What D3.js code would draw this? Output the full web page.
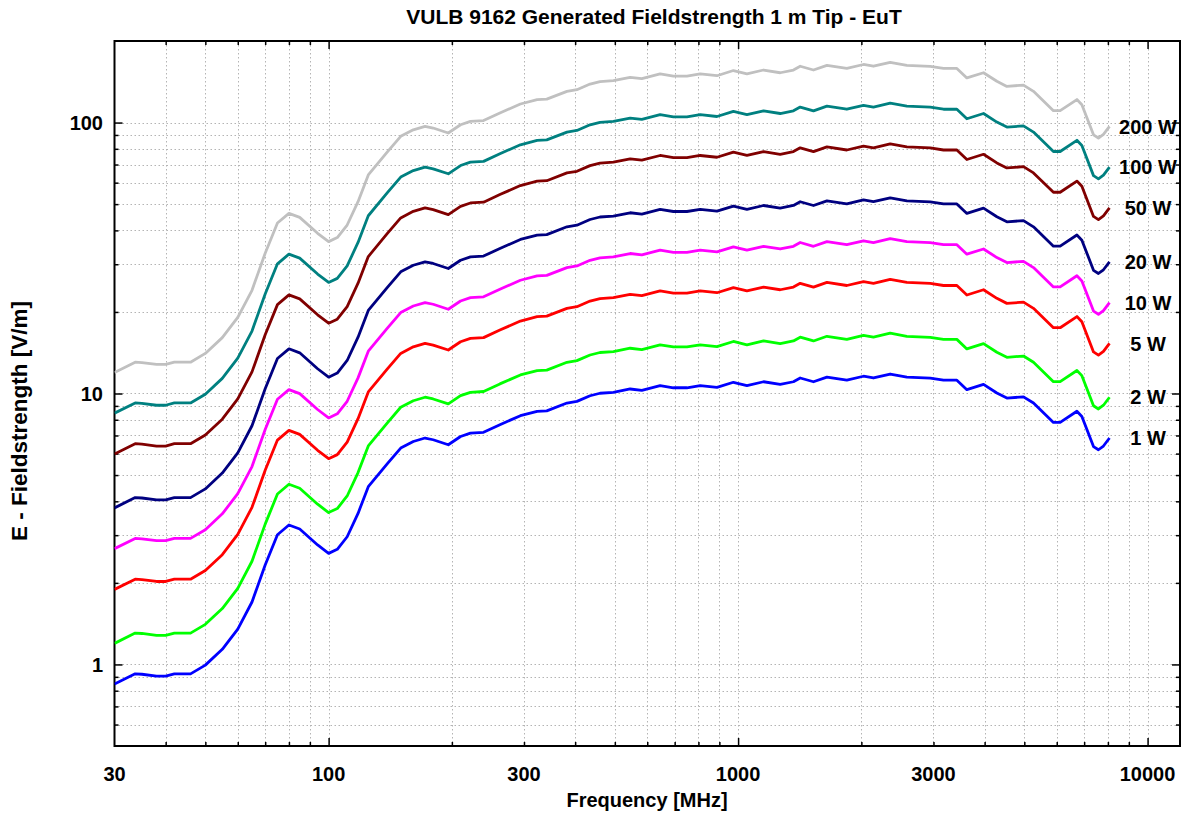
<!DOCTYPE html>
<html>
<head>
<meta charset="utf-8">
<script src="https://cdn.jsdelivr.net/npm/d3@7"></script>
<style>
  html, body { margin: 0; padding: 0; background: #fff; }
  svg { display: block; font-family: "Liberation Sans", Arial, sans-serif; }
</style>
</head>
<body>
<svg id="chart" width="1187" height="813"></svg>
<script>
// ---------------- data ----------------
const freqMHz = [30, 33.7, 35, 38, 40, 42, 46, 50, 55, 60, 65, 70, 75, 80, 85, 94, 100, 105, 111, 118, 125, 139, 150, 161, 172, 180, 196, 210, 222, 239, 262, 294, 323, 341, 382, 404, 435, 460, 496, 545, 582, 645, 695, 750, 808, 888, 974, 1051, 1154, 1267, 1365, 1418, 1528, 1648, 1843, 2024, 2141, 2352, 2583, 2946, 3174, 3422, 3620, 3975, 4285, 4533, 4977, 5265, 5890, 6117, 6721, 6911, 7378, 7586, 7803, 8073];

const e1W = [0.846, 0.923, 0.92, 0.905, 0.905, 0.923, 0.923, 0.994, 1.137, 1.35, 1.70, 2.33, 3.01, 3.27, 3.16, 2.76, 2.57, 2.66, 2.96, 3.61, 4.53, 5.50, 6.29, 6.65, 6.85, 6.75, 6.47, 6.94, 7.14, 7.19, 7.67, 8.28, 8.59, 8.63, 9.22, 9.35, 9.81, 10.02, 10.10, 10.39, 10.27, 10.69, 10.50, 10.50, 10.69, 10.53, 11.00, 10.70, 11.05, 10.80, 11.05, 11.41, 11.05, 11.50, 11.20, 11.58, 11.41, 11.80, 11.50, 11.40, 11.20, 11.20, 10.33, 10.80, 10.04, 9.62, 9.72, 9.22, 7.82, 7.82, 8.60, 8.23, 6.37, 6.20, 6.40, 6.85];

const e2W = [1.196, 1.305, 1.301, 1.280, 1.280, 1.305, 1.305, 1.406, 1.608, 1.909, 2.404, 3.295, 4.257, 4.624, 4.469, 3.903, 3.635, 3.762, 4.186, 5.105, 6.406, 7.778, 8.895, 9.404, 9.687, 9.546, 9.150, 9.815, 10.10, 10.17, 10.85, 11.71, 12.15, 12.20, 13.04, 13.22, 13.87, 14.17, 14.28, 14.69, 14.52, 15.12, 14.85, 14.85, 15.12, 14.89, 15.56, 15.13, 15.63, 15.27, 15.63, 16.14, 15.63, 16.26, 15.84, 16.38, 16.14, 16.69, 16.26, 16.12, 15.84, 15.84, 14.61, 15.27, 14.20, 13.60, 13.75, 13.04, 11.06, 11.06, 12.16, 11.64, 9.009, 8.768, 9.051, 9.687];

const e5W = [1.892, 2.064, 2.057, 2.024, 2.024, 2.064, 2.064, 2.223, 2.542, 3.019, 3.801, 5.210, 6.731, 7.312, 7.066, 6.172, 5.747, 5.948, 6.619, 8.072, 10.13, 12.30, 14.06, 14.87, 15.32, 15.09, 14.47, 15.52, 15.97, 16.08, 17.15, 18.51, 19.21, 19.30, 20.62, 20.91, 21.94, 22.41, 22.58, 23.23, 22.96, 23.90, 23.48, 23.48, 23.90, 23.55, 24.60, 23.93, 24.71, 24.15, 24.71, 25.51, 24.71, 25.72, 25.04, 25.89, 25.51, 26.39, 25.72, 25.49, 25.04, 25.04, 23.10, 24.15, 22.45, 21.51, 21.73, 20.62, 17.49, 17.49, 19.23, 18.40, 14.24, 13.86, 14.31, 15.32];

const e10W = [2.675, 2.919, 2.909, 2.862, 2.862, 2.919, 2.919, 3.143, 3.596, 4.269, 5.376, 7.368, 9.519, 10.34, 9.993, 8.728, 8.127, 8.412, 9.360, 11.42, 14.33, 17.39, 19.89, 21.03, 21.66, 21.35, 20.46, 21.95, 22.58, 22.74, 24.25, 26.18, 27.16, 27.29, 29.16, 29.57, 31.02, 31.69, 31.94, 32.86, 32.48, 33.81, 33.20, 33.20, 33.81, 33.30, 34.79, 33.84, 34.94, 34.15, 34.94, 36.08, 34.94, 36.37, 35.42, 36.62, 36.08, 37.32, 36.37, 36.05, 35.42, 35.42, 32.67, 34.15, 31.75, 30.42, 30.74, 29.16, 24.73, 24.73, 27.20, 26.03, 20.14, 19.61, 20.24, 21.66];

const e20W = [3.783, 4.128, 4.114, 4.047, 4.047, 4.128, 4.128, 4.445, 5.085, 6.037, 7.603, 10.42, 13.46, 14.62, 14.13, 12.34, 11.49, 11.90, 13.24, 16.14, 20.26, 24.60, 28.13, 29.74, 30.63, 30.19, 28.93, 31.04, 31.93, 32.15, 34.30, 37.03, 38.42, 38.59, 41.23, 41.81, 43.87, 44.81, 45.17, 46.46, 45.93, 47.81, 46.96, 46.96, 47.81, 47.09, 49.19, 47.85, 49.42, 48.30, 49.42, 51.03, 49.42, 51.43, 50.09, 51.79, 51.03, 52.77, 51.43, 50.98, 50.09, 50.09, 46.20, 48.30, 44.90, 43.02, 43.47, 41.23, 34.97, 34.97, 38.46, 36.81, 28.49, 27.73, 28.62, 30.63];

const e50W = [5.982, 6.527, 6.505, 6.399, 6.399, 6.527, 6.527, 7.029, 8.040, 9.546, 12.02, 16.48, 21.28, 23.12, 22.34, 19.52, 18.17, 18.81, 20.93, 25.53, 32.03, 38.89, 44.48, 47.02, 48.44, 47.73, 45.75, 49.07, 50.49, 50.84, 54.24, 58.55, 60.74, 61.02, 65.20, 66.11, 69.37, 70.85, 71.42, 73.47, 72.62, 75.59, 74.25, 74.25, 75.59, 74.46, 77.78, 75.66, 78.14, 76.37, 78.14, 80.68, 78.14, 81.32, 79.20, 81.88, 80.68, 83.44, 81.32, 80.61, 79.20, 79.20, 73.04, 76.37, 70.99, 68.02, 68.73, 65.20, 55.30, 55.30, 60.81, 58.20, 45.04, 43.84, 45.26, 48.44];

const e100W = [8.46, 9.23, 9.2, 9.05, 9.05, 9.23, 9.23, 9.94, 11.37, 13.5, 17.0, 23.3, 30.1, 32.7, 31.6, 27.6, 25.7, 26.6, 29.6, 36.1, 45.3, 55.0, 62.9, 66.5, 68.5, 67.5, 64.7, 69.4, 71.4, 71.9, 76.7, 82.8, 85.9, 86.3, 92.2, 93.5, 98.1, 100.2, 101.0, 103.9, 102.7, 106.9, 105.0, 105.0, 106.9, 105.3, 110.0, 107.0, 110.5, 108.0, 110.5, 114.1, 110.5, 115.0, 112.0, 115.8, 114.1, 118.0, 115.0, 114.0, 112.0, 112.0, 103.3, 108.0, 100.4, 96.2, 97.2, 92.2, 78.2, 78.2, 86.0, 82.3, 63.7, 62.0, 64.0, 68.5];

const e200W = [11.96, 13.05, 13.01, 12.80, 12.80, 13.05, 13.05, 14.06, 16.08, 19.09, 24.04, 32.95, 42.57, 46.24, 44.69, 39.03, 36.35, 37.62, 41.86, 51.05, 64.06, 77.78, 88.95, 94.04, 96.87, 95.46, 91.50, 98.15, 101.0, 101.7, 108.5, 117.1, 121.5, 122.0, 130.4, 132.2, 138.7, 141.7, 142.8, 146.9, 145.2, 151.2, 148.5, 148.5, 151.2, 148.9, 155.6, 151.3, 156.3, 152.7, 156.3, 161.4, 156.3, 162.6, 158.4, 163.8, 161.4, 166.9, 162.6, 161.2, 158.4, 158.4, 146.1, 152.7, 142.0, 136.0, 137.5, 130.4, 110.6, 110.6, 121.6, 116.4, 90.09, 87.68, 90.51, 96.87];

const seriesNames  = ["200 W", "100 W", "50 W", "20 W", "10 W", "5 W", "2 W", "1 W"];
const seriesValues = [e200W, e100W, e50W, e20W, e10W, e5W, e2W, e1W];
const seriesColors = ["#c0c0c0", "#008080", "#800000", "#000080", "#ff00ff", "#ff0000", "#00ff00", "#0000ff"];

const xTickLabels = [30, 100, 300, 1000, 3000, 10000];
const yTickLabels = [1, 10, 100];

const titleText = "VULB 9162 Generated Fieldstrength 1 m Tip - EuT";
const xTitleText = "Frequency [MHz]";
const yTitleText = "E - Fieldstrength [V/m]";

// ---------------- layout ----------------
const svg = d3.select("#chart");
const pLeft = 114.5, pRight = 1180, pTop = 41, pBottom = 746;

const x = d3.scaleLog().domain([30, 12000]).range([pLeft, pRight]);
const y = d3.scaleLog().domain([0.5, 200]).range([pBottom, pTop]);

// minor positions (1..9 multiples)
const xMinor = [];
for (let d = 10; d <= 10000; d *= 10) for (let m = 1; m <= 9; m++) { const v = d * m; if (v > 30 && v <= 12000) xMinor.push(v); }
const yMinor = [];
for (let d = 0.1; d <= 100.0001; d *= 10) for (let m = 1; m <= 9; m++) { const v = +(d * m).toPrecision(3); if (v > 0.5 && v < 200) yMinor.push(v); }
const xMajor = [100, 1000, 10000];
const yMajor = [1, 10, 100];

const grid = svg.append("g").attr("stroke", "#b4b4b4").attr("stroke-width", 1).attr("stroke-dasharray", "1.5,2.5");
grid.selectAll("line.vx").data(xMinor).join("line")
  .attr("x1", d => Math.round(x(d)) + 0.5).attr("x2", d => Math.round(x(d)) + 0.5)
  .attr("y1", pTop).attr("y2", pBottom);
grid.selectAll("line.hy").data(yMinor).join("line")
  .attr("y1", d => Math.round(y(d)) + 0.5).attr("y2", d => Math.round(y(d)) + 0.5)
  .attr("x1", pLeft).attr("x2", pRight);

// ticks inside on all four sides via d3 axes
const xTickLen = d => (xMajor.includes(d) ? 8 : 4);
const yTickLen = d => (yMajor.includes(d) ? 8 : 4);

function styleAxis(g) {
  g.select(".domain").remove();
  g.selectAll(".tick line").attr("stroke", "#000").attr("stroke-width", 1.5);
  g.selectAll(".tick text").remove();
}

const axB = svg.append("g").attr("transform", `translate(0,${pBottom})`)
  .call(d3.axisBottom(x).tickValues(xMinor).tickSize(0));
axB.selectAll(".tick line").attr("y2", d => -xTickLen(d));
styleAxis(axB);

const axT = svg.append("g").attr("transform", `translate(0,${pTop})`)
  .call(d3.axisTop(x).tickValues(xMinor).tickSize(0));
axT.selectAll(".tick line").attr("y2", d => xTickLen(d));
styleAxis(axT);

const axL = svg.append("g").attr("transform", `translate(${pLeft},0)`)
  .call(d3.axisLeft(y).tickValues(yMinor).tickSize(0));
axL.selectAll(".tick line").attr("x2", d => yTickLen(d));
styleAxis(axL);

const axR = svg.append("g").attr("transform", `translate(${pRight},0)`)
  .call(d3.axisRight(y).tickValues(yMinor).tickSize(0));
axR.selectAll(".tick line").attr("x2", d => -yTickLen(d));
styleAxis(axR);

// frame
svg.append("rect").attr("x", pLeft).attr("y", pTop).attr("width", pRight - pLeft).attr("height", pBottom - pTop)
  .attr("fill", "none").attr("stroke", "#000").attr("stroke-width", 2);

// tick labels
svg.append("g").selectAll("text").data(xTickLabels).join("text")
  .attr("x", d => x(d)).attr("y", 781)
  .attr("text-anchor", "middle").attr("font-size", 20).attr("font-weight", "bold").attr("fill", "#000")
  .text(d => d);
svg.append("g").selectAll("text").data(yTickLabels).join("text")
  .attr("x", 103).attr("y", d => y(d)).attr("dy", "0.36em")
  .attr("text-anchor", "end").attr("font-size", 20).attr("font-weight", "bold").attr("fill", "#000")
  .text(d => d);

// series lines
const line = d3.line().x((d, i) => x(freqMHz[i])).y(d => y(d));
svg.append("clipPath").attr("id", "plotclip").append("rect")
  .attr("x", pLeft).attr("y", pTop).attr("width", pRight - pLeft).attr("height", pBottom - pTop);
svg.append("g").attr("clip-path", "url(#plotclip)").selectAll("path").data(seriesValues).join("path")
  .attr("d", d => line(d))
  .attr("fill", "none")
  .attr("stroke", (d, i) => seriesColors[i])
  .attr("stroke-width", 2.8)
  .attr("stroke-linejoin", "round");

// series labels at the end value of each curve
svg.append("g").selectAll("text").data(seriesValues).join("text")
  .attr("x", 1148).attr("y", d => y(d[d.length - 1])).attr("dy", "0.36em")
  .attr("text-anchor", "middle").attr("font-size", 20).attr("font-weight", "bold").attr("fill", "#000")
  .text((d, i) => seriesNames[i]);

// titles
svg.append("text").attr("x", 654).attr("y", 24).attr("text-anchor", "middle")
  .attr("font-size", 21).attr("font-weight", "bold").attr("fill", "#000").text(titleText);
svg.append("text").attr("x", 647).attr("y", 807).attr("text-anchor", "middle")
  .attr("font-size", 20).attr("font-weight", "bold").attr("fill", "#000").text(xTitleText);
svg.append("text").attr("transform", "translate(27,421) rotate(-90)").attr("text-anchor", "middle")
  .attr("font-size", 22.5).attr("font-weight", "bold").attr("fill", "#000").text(yTitleText);
</script>
</body>
</html>
